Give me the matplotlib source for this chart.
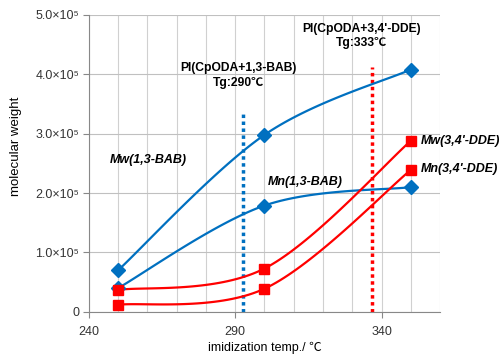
import numpy as np
import matplotlib
matplotlib.use("Agg")
import matplotlib.pyplot as plt
from matplotlib.ticker import MultipleLocator, FixedLocator

plt.rcParams['font.family'] = ['Liberation Sans', 'Noto Sans CJK JP', 'DejaVu Sans']

temps = [250, 300, 350]
mw_bab = [0.70e5, 2.98e5, 4.08e5]
mn_bab = [0.40e5, 1.79e5, 2.10e5]
mw_dde = [0.37e5, 0.73e5, 2.88e5]
mn_dde = [0.12e5, 0.39e5, 2.39e5]

tg_bab = 292.5
tg_dde = 336.8

y_ticks = [0, 1e5, 2e5, 3e5, 4e5, 5e5]
y_labels = ['0', '1.0×10⁵', '2.0×10⁵', '3.0×10⁵', '4.0×10⁵', '5.0×10⁵']
x_ticks = [240, 290, 340]

BLUE = '#0070C0'
RED = '#FF0000'


def smooth(x, y, n=40):
    # Excel-like smoothed line (cardinal bezier through the points)
    x = np.asarray(x, float)
    y = np.asarray(y, float)
    P = np.column_stack([x, y])
    out = []
    for i in range(len(P) - 1):
        p0 = P[i - 1] if i > 0 else P[i]
        p1 = P[i]
        p2 = P[i + 1]
        p3 = P[i + 2] if i + 2 < len(P) else P[i + 1]
        c1 = p1 + (p2 - p0) / 6.0
        c2 = p2 - (p3 - p1) / 6.0
        t = np.linspace(0, 1, n)[:, None]
        seg = (1 - t) ** 3 * p1 + 3 * (1 - t) ** 2 * t * c1 + 3 * (1 - t) * t ** 2 * c2 + t ** 3 * p2
        out.append(seg)
    out = np.vstack(out)
    return out[:, 0], out[:, 1]


fig = plt.figure(figsize=(4.99, 3.54), dpi=100)
ax = fig.add_axes([0.178, 0.119, 0.704, 0.839])

for ys, col, mk, ms in [(mw_bab, BLUE, 'D', 7), (mn_bab, BLUE, 'D', 7),
                        (mw_dde, RED, 's', 7.5), (mn_dde, RED, 's', 7.5)]:
    sx, sy = smooth(temps, ys)
    ax.plot(sx, sy, color=col, lw=1.6, zorder=3)
    ax.plot(temps, ys, ls='none', marker=mk, ms=ms, color=col, zorder=4)

ax.plot([tg_bab, tg_bab], [0, 3.38e5], color=BLUE, lw=2.5, ls=(0, (1, 1)), zorder=2)
ax.plot([tg_dde, tg_dde], [0, 4.12e5], color=RED, lw=2.5, ls=(0, (1, 1)), zorder=2)

ax.set_xlim(240, 360)
ax.set_ylim(0, 5e5)
ax.xaxis.set_major_locator(FixedLocator(x_ticks))
ax.xaxis.set_minor_locator(MultipleLocator(10))
ax.yaxis.set_major_locator(FixedLocator(y_ticks))
ax.set_yticklabels(y_labels)
ax.grid(True, which='both', axis='x', color='#D0D0D0', lw=0.8)
ax.grid(True, which='major', axis='y', color='#C0C0C0', lw=0.8)
ax.set_axisbelow(True)
for s in ['top', 'right']:
    ax.spines[s].set_visible(False)
for s in ['left', 'bottom']:
    ax.spines[s].set_color('#888888')
ax.tick_params(which='both', length=0, labelsize=9, colors='#333333')
ax.tick_params(axis='x', pad=6)
ax.tick_params(axis='y', which='major', length=4, direction='out', color='#888888', pad=3)
ax.tick_params(axis='x', which='major', length=4, direction='out', color='#888888')

ax.set_ylabel('molecular weight', fontsize=9.5)
ax.yaxis.set_label_coords(-0.19, 0.556)
ax.set_xlabel('imidization temp./ ℃', fontsize=9)
ax.xaxis.set_label_coords(0.5, -0.1)

ax.text(tg_bab - 1.5, 3.98e5, 'PI(CpODA+1,3-BAB)\nTg:290℃', ha='center', va='center',
        fontsize=8.7, fontweight='bold', linespacing=1.25)
ax.text(tg_dde - 3.5, 4.65e5, "PI(CpODA+3,4'-DDE)\nTg:333℃", ha='center', va='center',
        fontsize=8.7, fontweight='bold', linespacing=1.25)

lab = dict(fontsize=9, fontweight='bold', fontstyle='italic', va='center')
ax.text(247, 2.56e5, 'Mw(1,3-BAB)', **lab)
ax.text(301, 2.18e5, 'Mn(1,3-BAB)', **lab)
ax.text(353.5, 2.88e5, "Mw(3,4'-DDE)", **lab)
ax.text(353.5, 2.40e5, "Mn(3,4'-DDE)", **lab)

fig.savefig('out.png', dpi=100)
